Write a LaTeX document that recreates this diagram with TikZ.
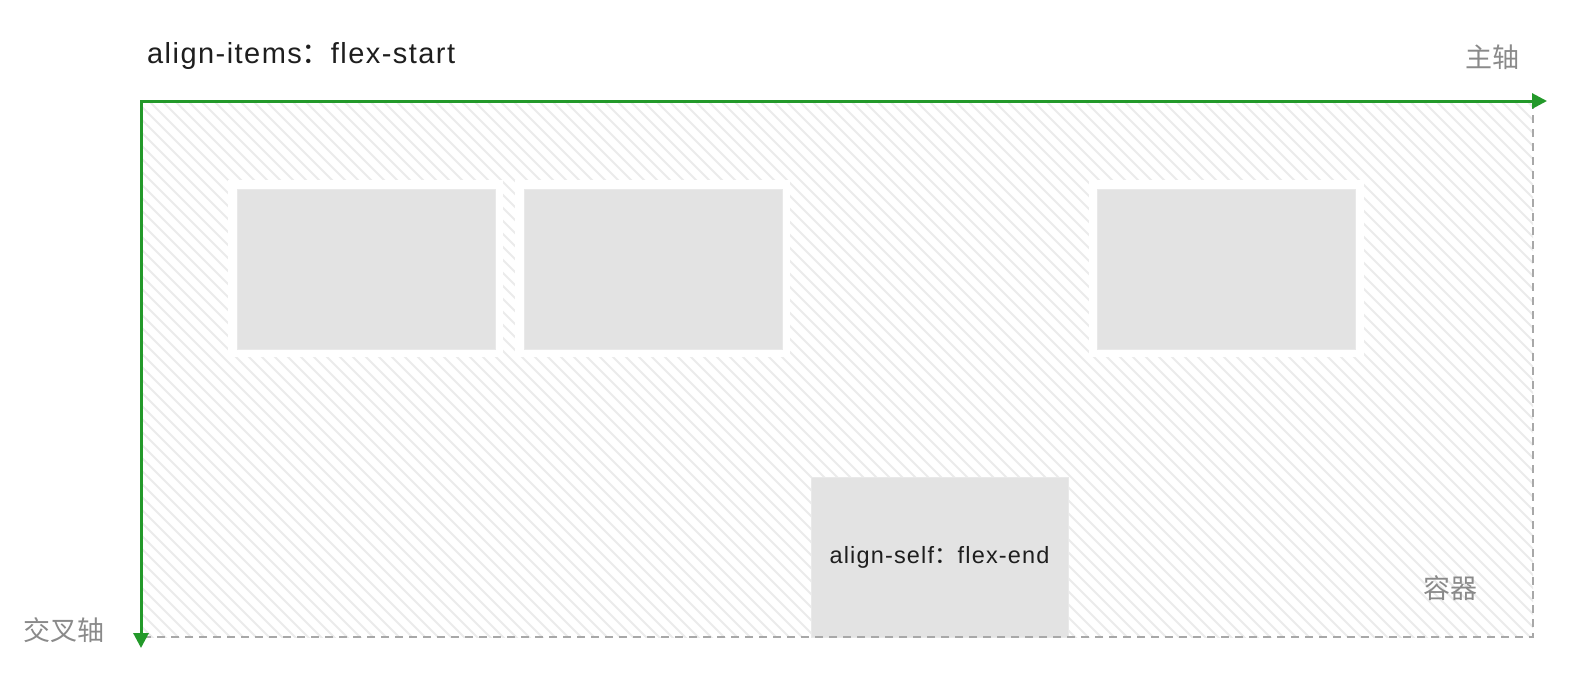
\documentclass[tikz,border=0pt]{standalone}
\usepackage{fontspec}
\setmainfont{Liberation Sans}
\newfontfamily\cjk{Noto Sans CJK SC}
\newfontfamily\latinsp[LetterSpace=5]{Liberation Sans}
\usetikzlibrary{arrows.meta}
\definecolor{axisgreen}{HTML}{23992A}
\definecolor{boxgray}{HTML}{E3E3E3}
\definecolor{boxedge}{HTML}{E9E9E9}
\definecolor{hatchgray}{HTML}{EBEBEB}
\definecolor{dashgray}{HTML}{A8A8A8}
\definecolor{labelgray}{HTML}{8A8A8A}
\definecolor{textdark}{HTML}{1E1E1E}
\begin{document}
\begin{tikzpicture}[x=1pt,y=-1pt,
  axis/.style={draw=axisgreen,line width=3pt,line cap=rect,-{Triangle[length=15pt,width=15pt]}},
  edgeline/.style={draw=dashgray,line width=2.2pt,dash pattern=on 8pt off 6pt},
  hatchline/.style={draw=hatchgray,line width=2pt},
  marginbox/.style={fill=white,inner sep=0pt,minimum width=275pt,minimum height=177pt},
  itembox/.style={fill=boxgray,draw=boxedge,line width=1pt,inner sep=0pt,minimum width=258pt,minimum height=160pt},
  titletext/.style={text=textdark,inner sep=0pt,font=\fontsize{29}{34}\selectfont\latinsp},
  boxtext/.style={text=textdark,font=\fontsize{23.5}{28}\selectfont\latinsp},
  axislabel/.style={text=labelgray,inner sep=0pt,font=\fontsize{27}{32}\selectfont\cjk}
]
\useasboundingbox (0,0) rectangle (1586,694);
% container corners
\coordinate (tl) at (141,101);
\coordinate (tr) at (1533,101);
\coordinate (br) at (1533,637);
\coordinate (bl) at (141,637);
\coordinate (mainend) at (1547,101);
\coordinate (crossend) at (141,648);
% hatch
\begin{scope}
  \clip (tl) rectangle (br);
  \foreach \c in {-540,-527,...,1540}
    \draw[hatchline] (\c,101) -- ++(540,540);
\end{scope}
% item margins and items
\node[marginbox] (m1) at (365.5,268.5) {};
\node[marginbox] (m2) at (652.5,268.5) {};
\node[marginbox] (m3) at (1226.5,268.5) {};
\node[itembox] (b1) at (366,269) {};
\node[itembox] (b2) at (653,269) {};
\node[itembox] (b3) at (1226.5,269) {};
\node[itembox,boxtext,minimum width=257pt] (b4) at (939.5,557) {align-self{\cjk ：}flex-end};
% container dashed edges
\draw[edgeline] (tr) -- (br) -- (bl);
% axes
\draw[axis] (tl) -- (mainend);
\draw[axis] (tl) -- (crossend);
% labels
\node[titletext,anchor=base west] (title) at (147,63) {align-items{\cjk ：}flex-start};
\node[axislabel] (mainlbl) at (1492,57) {主轴};
\node[axislabel] (crosslbl) at (64,630) {交叉轴};
\node[axislabel] (contlbl) at (1450,588) {容器};
\end{tikzpicture}
\end{document}
